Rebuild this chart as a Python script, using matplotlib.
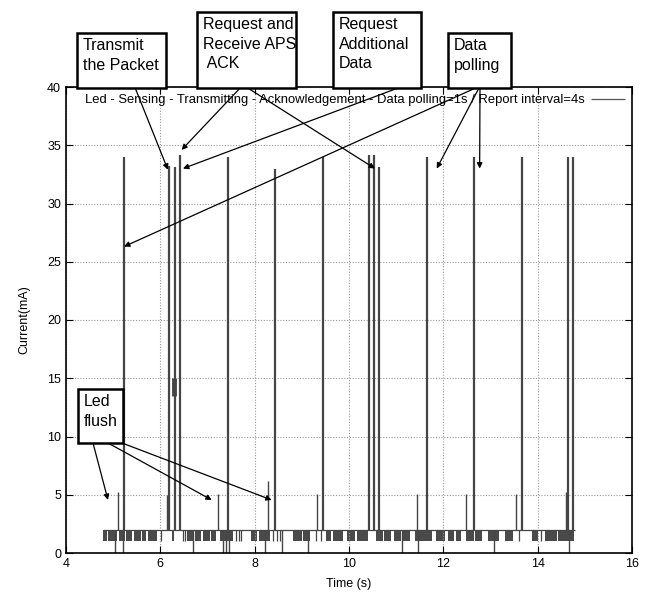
import matplotlib
matplotlib.use('Agg')
import matplotlib.pyplot as plt
from matplotlib.patches import Rectangle

plt.rcParams['font.family'] = ['Liberation Sans', 'DejaVu Sans']

### Dados (tempo em s, corrente em mA)
# picos altos (transmissao / ack / polling)
spike_t = [5.23, 6.19, 6.31, 6.42, 7.43, 8.43, 9.44, 10.42, 10.53, 10.64,
           11.65, 12.66, 13.66, 14.64, 14.74]
spike_i = [34.0, 33.2, 33.1, 34.2, 34.0, 33.0, 34.0, 34.2, 34.2, 33.1,
           34.0, 34.0, 34.0, 34.0, 34.0]
# picos pequenos (led flush)
flush_t = [5.11, 6.15, 7.22, 8.29, 9.33, 11.44, 12.49, 13.55, 14.60]
flush_i = [5.2, 5.0, 5.1, 6.2, 5.1, 5.1, 5.1, 5.1, 5.2]
# nivel base e trechos de ruido (1 a 2 mA)
base_level = 2.0
base_start, base_end = 4.79, 14.80
noise_low = 1.0
noise_blocks = [(4.79, 4.86), (4.88, 5.08), (5.13, 5.25), (5.28, 5.40),
                (5.44, 5.58), (5.61, 5.70), (5.73, 5.92),
                (6.24, 6.29), (6.56, 6.70), (6.73, 6.86), (6.90, 7.05),
                (7.08, 7.19), (7.26, 7.54),
                (7.93, 8.06), (8.10, 8.32), (8.81, 9.00), (9.03, 9.17),
                (9.52, 9.62), (9.66, 9.87), (9.95, 10.12), (10.16, 10.40),
                (10.58, 10.72), (10.75, 10.90), (10.95, 11.10), (11.14, 11.29),
                (11.39, 11.75), (11.85, 12.03), (12.09, 12.22), (12.26, 12.38),
                (12.49, 12.64), (12.68, 12.81), (12.95, 13.19), (13.30, 13.48),
                (13.87, 14.00), (14.15, 14.40), (14.44, 14.78)]
noise_ticks = [6.02, 6.49, 6.53, 7.60, 7.66, 7.72, 8.38, 8.47, 8.53, 9.30,
               9.40, 13.60, 14.08]
# quedas ate zero
dip_t = [5.04, 5.20, 6.70, 7.33, 7.40, 7.46, 8.22, 8.57, 9.13, 11.12,
         11.46, 13.07, 14.66]
# trecho grosso no pico de 6.3 s
thick_t, thick_lo, thick_hi = 6.28, 13.5, 15.0

legend_label = 'Led - Sensing - Transmitting - Acknowledgement - Data polling=1s / Report interval=4s'
x_ticks = [4, 6, 8, 10, 12, 14, 16]
y_ticks = [0, 5, 10, 15, 20, 25, 30, 35, 40]

line_c = '#454545'

W, H = 650, 598
fig = plt.figure(figsize=(W / 100, H / 100), dpi=100)
ax = fig.add_axes([66 / W, 1 - 553 / H, (632 - 66) / W, (553 - 87) / H])

ax.hlines(base_level, base_start, base_end, color=line_c, lw=0.9, label=legend_label)
ax.broken_barh([(a, b - a) for a, b in noise_blocks], (noise_low, base_level - noise_low),
               facecolors='#4a4a4a', edgecolors='none')
ax.vlines(noise_ticks, noise_low, base_level, color=line_c, lw=0.9)
ax.vlines(dip_t, 0, base_level, color=line_c, lw=1.0)
ax.vlines(flush_t, base_level, flush_i, color=line_c, lw=1.0)
ax.vlines(spike_t, base_level, spike_i, color=line_c, lw=1.6)
ax.vlines([thick_t], thick_lo, thick_hi, color=line_c, lw=3.5)

ax.set_xlim(4, 16)
ax.set_ylim(0, 40)
ax.set_xticks(x_ticks)
ax.set_yticks(y_ticks)
ax.grid(True, linestyle=(0, (1, 1.5)), color='#9a9a9a', lw=0.8)
ax.tick_params(direction='in', top=True, right=True, length=5, labelsize=9)
for s in ax.spines.values():
    s.set_linewidth(1.2)
ax.set_xlabel('Time (s)', fontsize=9, labelpad=6)
ax.set_ylabel('Current(mA)', fontsize=9, labelpad=12)

leg = ax.legend(loc='upper right', frameon=False, fontsize=9.4, handlelength=2.6,
                borderaxespad=0.25, handletextpad=0.5, markerfirst=False,
                borderpad=0.3)
leg.get_lines()[0].set_color('#555555')

### Caixas de anotacao (em pixels da figura)
boxes = [
    ((77, 33, 166, 88), ['Transmit', 'the Packet']),
    ((197, 12, 296, 88), ['Request and', 'Receive APS', ' ACK']),
    ((333, 12, 421, 88), ['Request', 'Additional', 'Data']),
    ((448, 33, 511, 88), ['Data', 'polling']),
    ((78, 389, 123, 443), ['Led', 'flush']),
]
for (x0, y0, x1, y1), lines in boxes:
    fig.patches.append(Rectangle((x0 / W, 1 - y1 / H), (x1 - x0) / W, (y1 - y0) / H,
                                 transform=fig.transFigure, fill=True, fc='white',
                                 ec='black', lw=1.8, zorder=5))
    fig.text((x0 + 6) / W, 1 - (y0 + 5) / H, '\n'.join(lines),
             fontsize=11.5, va='top', ha='left', linespacing=1.38, zorder=6)

# setas: origem em pixels da figura, destino em dados
arrows = [
    ((130, 75), (6.16, 32.9)),
    ((243, 85), (6.45, 34.6)),
    ((243, 85), (10.55, 33.0)),
    ((398, 88), (6.48, 33.0)),
    ((480, 86), (5.23, 26.3)),
    ((480, 86), (11.86, 33.0)),
    ((480, 86), (12.77, 33.0)),
    ((93, 443), (4.89, 4.55)),
    ((108, 443), (7.09, 4.55)),
    ((122, 443), (8.36, 4.55)),
]
for (px, py), (tx, ty) in arrows:
    ax.annotate('', xy=(tx, ty), xycoords='data',
                xytext=(px / W, 1 - py / H), textcoords='figure fraction',
                arrowprops=dict(arrowstyle='-|>', color='black', lw=0.9,
                                mutation_scale=8, shrinkA=0, shrinkB=0),
                annotation_clip=False, zorder=7)

plt.savefig('out.png', dpi=100)
